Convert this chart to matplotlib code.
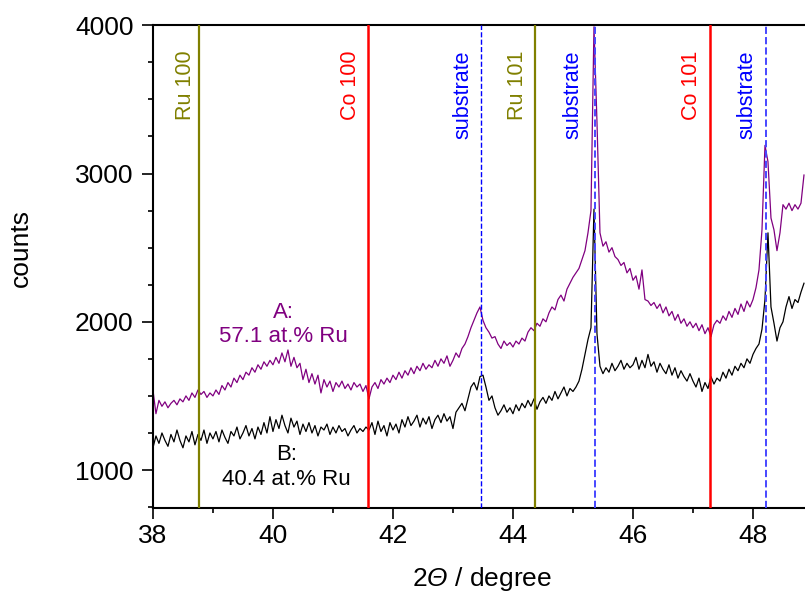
import numpy as np
import matplotlib.pyplot as plt
from matplotlib.ticker import MultipleLocator

plt.rcParams['font.family'] = ['Liberation Sans', 'DejaVu Sans']
# only math in the figure is the italic Theta of the x label
plt.rcParams['mathtext.fontset'] = 'custom'
plt.rcParams['mathtext.rm'] = 'Liberation Sans:italic'
plt.rcParams['mathtext.it'] = 'Liberation Sans:italic'

# scan grid, 0.05 deg steps
two_theta = np.round(np.arange(38.0, 48.851, 0.05), 2)

# sample A: 57.1 at.% Ru
counts_a = [
    1540, 1380, 1470, 1430, 1460, 1420, 1450, 1470, 1440, 1480, 1460, 1500, 1470, 1520, 1490, 1540, 1510, 1530, 1490, 1520,
    1500, 1540, 1510, 1570, 1540, 1590, 1560, 1620, 1590, 1640, 1610, 1660, 1640, 1690, 1660, 1710, 1680, 1730, 1700, 1740,
    1710, 1760, 1720, 1790, 1730, 1810, 1700, 1760, 1690, 1720, 1610, 1680, 1590, 1650, 1580, 1640, 1520, 1610, 1560, 1600,
    1530, 1590, 1560, 1600, 1550, 1580, 1540, 1590, 1560, 1580, 1530, 1570, 1480, 1560, 1590, 1550, 1610, 1580, 1620, 1590,
    1640, 1610, 1660, 1620, 1670, 1640, 1690, 1650, 1700, 1670, 1720, 1680, 1710, 1690, 1740, 1700, 1750, 1720, 1770, 1700,
    1740, 1790, 1760, 1820, 1850, 1900, 1960, 2010, 2060, 2100, 2010, 1960, 1930, 1890, 1900, 1850, 1820, 1870, 1840, 1860,
    1830, 1870, 1850, 1890, 1870, 1930, 1960, 1940, 1990, 1970, 2020, 2000, 2060, 2100, 2080, 2150, 2180, 2140, 2220, 2260,
    2300, 2330, 2360, 2420, 2480, 2600, 2750, 3990, 3350, 2600, 2510, 2540, 2470, 2500, 2440, 2420, 2380, 2400, 2330, 2360,
    2280, 2310, 2220, 2350, 2150, 2140, 2110, 2130, 2090, 2120, 2060, 2100, 2040, 2070, 2010, 2050, 1990, 2020, 1970, 2000,
    1960, 1990, 1940, 1980, 1920, 1960, 1900, 1980, 2010, 1990, 2040, 2010, 2070, 2030, 2090, 2050, 2120, 2070, 2140, 2100,
    2150, 2230, 2350, 2620, 3190, 3080, 2700, 2620, 2480, 2600, 2790, 2760, 2800, 2750, 2790, 2760, 2800, 2990,
]

# sample B: 40.4 at.% Ru
counts_b = [
    1150, 1230, 1180, 1250, 1200, 1160, 1240, 1190, 1270, 1200, 1150, 1230, 1190, 1260, 1170, 1240, 1200, 1270, 1180, 1250,
    1210, 1260, 1190, 1270, 1220, 1180, 1260, 1230, 1290, 1210, 1250, 1300, 1230, 1280, 1210, 1290, 1240, 1320, 1250, 1360,
    1260, 1340, 1280, 1370, 1300, 1250, 1350, 1290, 1330, 1240, 1310, 1260, 1320, 1250, 1300, 1230, 1290, 1270, 1310, 1240,
    1290, 1250, 1300, 1260, 1280, 1230, 1270, 1300, 1250, 1280, 1260, 1290, 1270, 1320, 1240, 1330, 1260, 1300, 1230, 1320,
    1270, 1310, 1250, 1340, 1290, 1360, 1300, 1330, 1370, 1290, 1350, 1310, 1360, 1280, 1340, 1370, 1320, 1380, 1330, 1360,
    1280, 1390, 1420, 1450, 1400, 1480, 1560, 1590, 1540, 1630, 1640, 1560, 1470, 1500, 1420, 1370, 1400, 1440, 1390, 1420,
    1380, 1440, 1400, 1450, 1420, 1470, 1430, 1480, 1410, 1460, 1490, 1450, 1500, 1470, 1530, 1480, 1520, 1560, 1500, 1550,
    1530, 1560, 1600, 1680, 1780, 1880, 1960, 2760, 1920, 1700, 1650, 1690, 1660, 1720, 1670, 1700, 1740, 1680, 1720, 1690,
    1710, 1760, 1680, 1740, 1690, 1780, 1700, 1730, 1660, 1720, 1680, 1650, 1710, 1640, 1690, 1620, 1670, 1630, 1600, 1650,
    1600, 1560, 1620, 1530, 1590, 1550, 1630, 1580, 1620, 1600, 1660, 1620, 1680, 1640, 1700, 1670, 1720, 1690, 1750, 1720,
    1780, 1820, 1850, 1950, 2150, 2600, 2100, 1990, 1870, 1960, 2000, 2100, 2170, 2090, 2150, 2130, 2200, 2260,
]

ref_pos = [38.77, 41.59, 43.46, 44.36, 45.37, 47.29, 48.21]
ref_labels = ['Ru 100', 'Co 100', 'substrate', 'Ru 101', 'substrate', 'Co 101', 'substrate']
ref_colors = ['#808000', '#ff0000', '#0000ff', '#808000', '#4646ff', '#ff0000', '#4646ff']
ref_styles = ['-', '-', '--', '-', '--', '-', '--']
ref_widths = [1.6, 1.8, 1.0, 1.6, 1.4, 1.8, 1.4]
label_gap = [2.5, 5, 5, 5, 8.5, 6, 5.5]  # points left of the line

fig = plt.figure(figsize=(8.05, 5.94), dpi=100)
ax = fig.add_axes([0.190, 0.1453, 0.810, 0.8121])

ax.plot(two_theta, counts_a, color='#800080', lw=0.9, zorder=2)
ax.plot(two_theta, counts_b, color='black', lw=0.9, zorder=2)

for x, lab, c, ls, lw, g in zip(ref_pos, ref_labels, ref_colors, ref_styles, ref_widths, label_gap):
    ax.axvline(x, color=c, ls=ls, lw=lw, zorder=3)
    ax.annotate(lab, xy=(x, 1), xycoords=('data', 'axes fraction'),
                xytext=(-g, -18), textcoords='offset points',
                rotation=90, ha='right', va='top', fontsize=15.5,
                color=c if c != '#4646ff' else '#0000ff')

ax.text(40.17, 1980, 'A:\n57.1 at.% Ru', color='#800080', fontsize=16,
        ha='center', va='center', multialignment='center')
ax.text(40.23, 1020, 'B:\n40.4 at.% Ru', color='black', fontsize=16,
        ha='center', va='center', multialignment='center')

ax.set_xlim(38, 48.867)
ax.set_ylim(746, 4000)
ax.xaxis.set_major_locator(MultipleLocator(2))
ax.xaxis.set_minor_locator(MultipleLocator(1))
ax.yaxis.set_major_locator(MultipleLocator(1000))
ax.yaxis.set_minor_locator(MultipleLocator(250))
ax.tick_params(which='major', direction='out', length=8, width=1.2, labelsize=19)
ax.tick_params(which='minor', direction='out', length=3.8, width=1.2)
ax.tick_params(axis='x', which='major', pad=4)
ax.tick_params(axis='y', which='major', pad=6)
ax.spines['right'].set_visible(False)
for s in ['left', 'bottom', 'top']:
    ax.spines[s].set_linewidth(1.5)

ax.set_xlabel(r'2$\Theta$ / degree', fontsize=19)
ax.set_ylabel('counts', fontsize=19)
ax.xaxis.set_label_coords(0.505, -0.118)
ax.yaxis.set_label_coords(-0.184, 0.538)

fig.savefig('out.png', dpi=100)
